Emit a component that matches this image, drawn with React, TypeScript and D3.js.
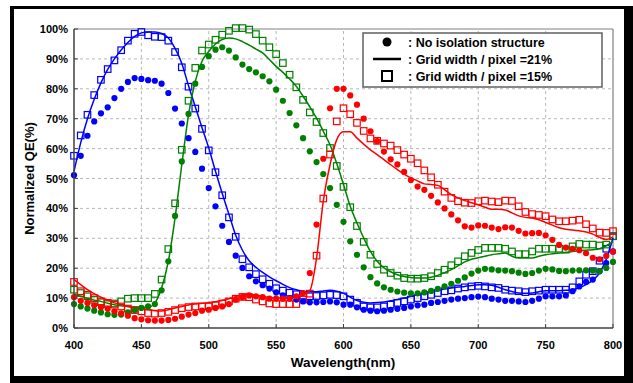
import React from "react";
import * as d3 from "d3";

const wavelengths: number[] = d3.range(400, 801, 5);

const blueDots = [51.1,57.6,64.3,69.1,71.8,73.8,76.9,80,82.3,83.6,83.3,82.9,82.7,81.7,78.6,73.4,68.4,63.5,58.9,53.3,
46.8,40.7,34.2,28.8,24.2,20.1,17.3,15.6,14.3,13.2,11.9,10.9,10,9.5,8.9,8.6,8.6,8.7,8.9,8.6,
7.8,7.8,6.9,6.1,5.8,5.6,5.8,6.1,6.4,6.7,7.2,7.6,7.8,8.4,8.7,9.1,9.5,9.8,10,10.3,
10.5,10.3,9.8,9.5,9.1,9.1,8.9,8.7,9.1,9.8,10.6,10.6,10.6,10.9,12.3,13.9,15.4,16.2,19,21.7,25.6];
const blueLine = [52.4,62,70,76.5,82,86.5,90,93,95.5,97.5,98.7,99,99,98.5,97,93.5,88.5,81,74,67,
60.2,52.4,45,38,31,26,22.5,20.3,18.6,17.1,15.8,14.6,13.5,12.8,12.3,12.1,12.1,12.4,12.6,12.3,
11.6,10.3,9.2,8.6,8.4,8.5,8.7,9.1,9.5,10,10.6,11.2,11.7,12.1,12.5,13,13.4,13.7,13.9,14.2,
14.5,14.5,14.3,13.6,12.8,12.2,11.7,11.6,11.7,12.1,12.5,12.5,12.5,12.6,12.8,13.5,14.5,16,18.4,23,30.1];
const blueSquares = [57.6,64.4,71.3,77.9,83,86.6,89.5,92.9,96.1,98.4,99,97.9,97.4,97.3,96.1,92.3,87.2,80.7,73.4,66.6,
59.4,52.1,44.4,37,30.5,23,20.3,18,16.3,14.8,13.3,12.5,11.8,11.3,10.8,10.6,10.7,10.9,11.1,11,
10.6,9.5,8.4,7.2,6.9,6.9,7.2,7.8,8.4,8.9,9.5,10,10.6,11.1,11.7,12.3,12.6,13.2,13.6,13.9,
14.1,13.9,13.6,13.4,12.8,12.5,12.3,12,12.3,12.5,12.8,12.8,12.8,12.8,13.6,15.6,17.8,19,22.5,26.5,30.7];

const greenDots = [8,7.2,6.5,5.8,5.2,4.6,4.4,4.5,5.2,5.9,6.7,7.2,8,12.6,22.3,37.5,55.7,71.6,81.7,87.3,
90.9,93.1,93.9,92.8,90.5,88.1,86.6,85.5,84.2,82.5,79.7,76,71.9,67.8,63.5,59.1,55.5,51.5,46.8,41.2,
35.5,29,24.5,20.3,17,14.9,13.6,12.8,12.2,11.8,11.6,11.6,11.9,12.4,13.1,13.9,14.8,15.8,16.9,18.2,
19.2,19.8,19.6,19.3,19.2,19,18.5,18.1,18.4,19.2,19.8,19.6,19.1,19,19.2,19.3,19.3,19.2,19,20.1,22.1];
const greenLine = [11.4,10.6,9.9,9.3,8.9,8.3,7.8,7.4,7.2,7,6.9,6.9,8.4,13.4,22.3,36.8,54.6,71.3,82.5,89.2,
92.5,95,96.5,97,96.7,95.8,94.6,93.3,92,89.8,87.5,85.5,83.3,80.8,77.5,74,70.2,65.8,61.3,55,
48,40.7,35.1,30.1,25.6,22.3,20.1,18.8,17.8,17.2,16.9,16.7,16.7,17,17.6,18.5,19.5,20.8,22.1,23,
23.5,24,24.5,24.8,25.1,24,23.4,23.4,23.4,24,24.5,24.8,25.1,25.3,25.6,25.8,26,26.2,26.5,27.5,29];
const greenSquares = [12.8,11.7,10.6,9.4,8.6,8,8.2,8.9,9.8,10,10,10,11.4,16.2,26.4,41.7,59.6,76,87,92.8,
94.8,96.4,98.1,99.4,100.3,100.3,99.8,98.3,96.1,93.9,91.6,88.6,84.7,80.5,76.3,72.1,68.9,65.2,60.2,54.2,
47.2,40.4,34.1,28.8,24.5,21.4,19.5,18.4,17.5,16.7,16.5,16.5,16.7,17.3,18.4,19.5,21,22.3,24,25.1,
26.1,26.8,26.8,26.8,26.5,25.6,24.7,24.7,25.6,26.5,26.5,26.5,26.5,26.2,27.3,28.1,27.9,27.9,27.6,27.9,30.7];

const redDots = [10.3,9.1,8.4,7.6,6.9,6.4,5.6,4.9,4.1,3.3,2.9,2.6,2.5,2.5,2.7,3.1,3.8,4.5,5,5.8,
6.1,6.7,7.2,8,9.5,10.3,10.9,10.6,10.3,9.8,9.8,9.8,9.8,10.6,11.7,18.4,34.6,56.6,73.5,80,
80,77.8,74.7,70,65.8,62.5,59,56.4,54.7,52.2,49.5,47.3,46.2,44.2,42,40,38,36,34,33.6,
34.3,34.2,33.6,33.1,33.7,33.6,32.5,31.6,31.7,31.8,31,29.5,27.8,26.9,26.5,26,25,23.5,23,24.1,25.5];
const redLine = [16.2,14.5,12.8,11.5,10.3,9.3,8.4,7.8,7.2,6.8,6.5,6.1,5.8,5.7,6.1,6.7,7.2,7.7,8,8.3,
8.5,8.8,9.2,9.8,10.5,11,11.2,11,10.6,10.2,10,10,10.2,10.6,11.3,12.5,23.4,42.4,54.6,63,
65.6,65.6,63.5,61.5,59.6,58,56.3,54.6,53,51.5,50.2,49.2,48.2,48,47.7,46.3,44.6,43.5,42.6,41.9,
41.2,40.4,39.7,39.7,39.5,38.5,37.5,37,36.8,36.2,35.3,34.4,33.5,33,32.8,32.5,32.1,31.4,30.3,29.6,30.5];
const redSquares = [15.4,12.3,11.1,10,8.9,8.4,7.8,7.2,6.5,6,5.6,5,4.8,5,5.4,6,6.6,7,7.2,7.2,
7.2,7.6,8.2,8.9,9.8,10.4,10.3,9.5,8.9,8.2,8,8,8,8,9.5,11.5,24.2,43.3,58,69.1,
73.5,71.5,68.6,65.9,63.4,62.6,61.7,61,59.5,58,56.6,55.1,52.7,50.4,47.9,45.6,43.5,42.4,41.9,41.8,
42.4,42.6,42.3,42.1,42.6,42.5,40.7,38.8,38.1,37.8,37.4,36.3,35.7,35.7,35.9,36.2,34.7,33.3,31.9,31.8,32.4];

const xTicks = [400, 450, 500, 550, 600, 650, 700, 750, 800];
const yTicks = [0, 10, 20, 30, 40, 50, 60, 70, 80, 90, 100];
const legendLabels = [": No isolation structure", ": Grid width / pixel =21%", ": Grid width / pixel =15%"];

const colors = { blue: "#0000ff", green: "#008000", red: "#ff0000" };

export default function App() {
  const W = 633, H = 383;
  const x = d3.scaleLinear().domain([400, 800]).range([74, 613]);
  const y = d3.scaleLinear().domain([0, 100]).range([328, 29]);
  const line = d3.line<number>().x((_, i) => x(wavelengths[i])).y((v) => y(v)).curve(d3.curveMonotoneX);
  const font = "'Liberation Sans', Arial, sans-serif";

  const lineSeries = [
    { d: blueLine, c: colors.blue },
    { d: greenLine, c: colors.green },
    { d: redLine, c: colors.red },
  ];
  const squareSeries = [
    { d: blueSquares, c: colors.blue },
    { d: greenSquares, c: colors.green },
    { d: redSquares, c: colors.red },
  ];
  const dotSeries = [
    { d: blueDots, c: colors.blue },
    { d: greenDots, c: colors.green },
    { d: redDots, c: colors.red },
  ];
  const sq = 6.5;

  return (
    <svg width={W} height={H} style={{ position: "absolute", left: 0, top: 0 }} fontFamily={font}>
      <rect x={0} y={0} width={W} height={H} fill="#fff" />
      <rect x={10} y={6} width={W - 10} height={H - 6} fill="#000" />
      <rect x={14} y={9} width={610} height={367} fill="#fff" />

      {/* grid */}
      {yTicks.filter((t) => t > 0 && t < 100).map((t) => (
        <line key={"gy" + t} x1={x(400)} x2={x(800)} y1={y(t)} y2={y(t)} stroke="#b8b8b8" strokeDasharray="3,3" strokeWidth={1} />
      ))}
      {xTicks.filter((t) => t > 400 && t < 800).map((t) => (
        <line key={"gx" + t} x1={x(t)} x2={x(t)} y1={y(0)} y2={y(100)} stroke="#b8b8b8" strokeDasharray="3,3" strokeWidth={1} />
      ))}
      {/* frame */}
      <line x1={x(400)} x2={x(800)} y1={y(100)} y2={y(100)} stroke="#808080" strokeWidth={1.2} />
      <line x1={x(800)} x2={x(800)} y1={y(100)} y2={y(0)} stroke="#808080" strokeWidth={1.2} />

      {/* squares */}
      {squareSeries.map((s, si) => (
        <g key={"s" + si}>
          {s.d.map((v, i) => (
            <rect key={i} x={x(wavelengths[i]) - sq / 2} y={y(v) - sq / 2} width={sq} height={sq} fill="none" stroke={s.c} strokeWidth={1.2} />
          ))}
        </g>
      ))}
      {/* lines */}
      {lineSeries.map((s, si) => (
        <path key={"l" + si} d={line(s.d) || ""} fill="none" stroke={s.c} strokeWidth={1.5} />
      ))}
      {/* dots */}
      {dotSeries.map((s, si) => (
        <g key={"d" + si}>
          {s.d.map((v, i) => (
            <circle key={i} cx={x(wavelengths[i])} cy={y(v)} r={3.1} fill={s.c} />
          ))}
        </g>
      ))}

      {/* axes */}
      <line x1={x(400)} x2={x(400)} y1={y(0)} y2={y(100)} stroke="#404040" strokeWidth={1.5} />
      <line x1={x(400)} x2={x(800)} y1={y(0)} y2={y(0)} stroke="#404040" strokeWidth={1.5} />
      {xTicks.map((t) => (
        <g key={"xt" + t}>
          <line x1={x(t)} x2={x(t)} y1={y(0)} y2={y(0) - 4} stroke="#404040" strokeWidth={1} />
          <text x={x(t)} y={349} textAnchor="middle" fontSize={11} fontWeight="bold" fill="#000">{t}</text>
        </g>
      ))}
      {yTicks.map((t) => (
        <g key={"yt" + t}>
          <line x1={x(400)} x2={x(400) + 4} y1={y(t)} y2={y(t)} stroke="#404040" strokeWidth={1} />
          <text x={68} y={y(t) + 4} textAnchor="end" fontSize={11} fontWeight="bold" fill="#000">{t + "%"}</text>
        </g>
      ))}
      <text x={343} y={367} textAnchor="middle" fontSize={13.5} fontWeight="bold" fill="#000">Wavelength(nm)</text>
      <text transform={`translate(34,${(y(0) + y(100)) / 2}) rotate(-90)`} textAnchor="middle" fontSize={13} fontWeight="bold" fill="#000">Normalized QE(%)</text>

      {/* legend */}
      <rect x={363} y={33} width={239} height={54} fill="#fff" stroke="#606060" strokeWidth={1.5} />
      <circle cx={387} cy={42} r={4.5} fill="#000" />
      <line x1={373} x2={401} y1={59} y2={59} stroke="#000" strokeWidth={2.5} />
      <rect x={382} y={71} width={10} height={10} fill="none" stroke="#000" strokeWidth={2} />
      {legendLabels.map((l, i) => (
        <text key={l} x={408} y={46.5 + i * 17} fontSize={12.5} fontWeight="bold" fill="#000">{l}</text>
      ))}
    </svg>
  );
}
